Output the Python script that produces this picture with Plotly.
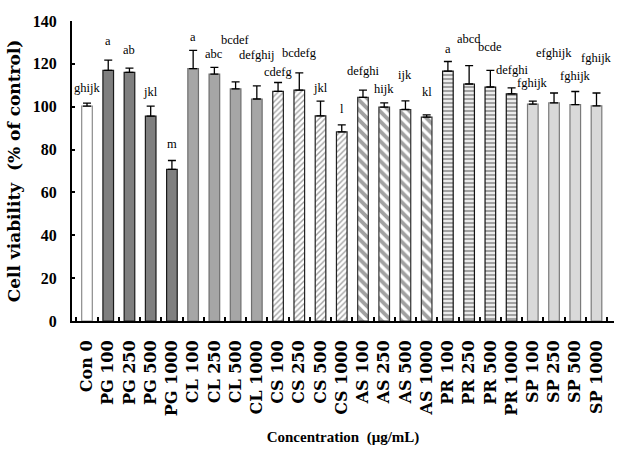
import plotly.graph_objects as go

categories = ["Con 0", "PG 100", "PG 250", "PG 500", "PG 1000",
              "CL 100", "CL 250", "CL 500", "CL 1000",
              "CS 100", "CS 250", "CS 500", "CS 1000",
              "AS 100", "AS 250", "AS 500", "AS 1000",
              "PR 100", "PR 250", "PR 500", "PR 1000",
              "SP 100", "SP 250", "SP 500", "SP 1000"]
viability = [100.3, 117.0, 116.0, 95.6, 70.8,
             117.8, 115.2, 108.3, 103.6,
             107.2, 107.7, 95.7, 88.3,
             104.4, 99.8, 98.7, 95.1,
             116.6, 110.6, 109.2, 106.0,
             101.2, 101.8, 101.0, 100.4]
sd = [1.4, 4.7, 2.0, 4.7, 4.1,
      8.5, 3.2, 3.3, 6.1,
      4.1, 8.1, 6.9, 3.2,
      3.3, 2.0, 4.0, 1.1,
      4.5, 8.6, 7.8, 2.8,
      1.4, 4.6, 6.1, 6.0]
letters = ["ghijk", "a", "ab", "jkl", "m",
           "a", "abc", "bcdef", "defghij",
           "cdefg", "bcdefg", "jkl", "l",
           "defghi", "hijk", "ijk", "kl",
           "a", "abcd", "bcde", "defghi",
           "fghijk", "efghijk", "fghijk", "fghijk"]

# styling per bar (group look)
label_lift = [15, 19, 18, 14, 17, 13, 13, 42, 31, 11, 20, 13, 16,
              19, 14, 26, 23, 13, 27, 23, 18, 18, 40, 16, 35]
fills = (["white"] + ["#7f7f7f"] * 4 + ["#a6a6a6"] * 4 + ["white"] * 4 +
         ["white"] * 4 + ["white"] * 4 + ["#d9d9d9"] * 4)
edges = (["#8c8c8c"] + ["#1a1a1a"] * 4 + ["#6e6e6e"] * 4 + ["#222222"] * 4 +
         ["#333333"] * 4 + ["#111111"] * 4 + ["#7a7a7a"] * 4)
shapes = ([""] * 9 + ["/"] * 4 + ["\\"] * 4 + ["-"] * 4 + [""] * 4)
pfg = (["black"] * 9 + ["#4a4a4a"] * 4 + ["black"] * 4 + ["black"] * 4 + ["black"] * 4)
psize = ([8] * 9 + [4] * 4 + [7] * 4 + [4] * 4 + [8] * 4)
psol = ([0.3] * 9 + [0.35] * 4 + [0.55] * 4 + [0.6] * 4 + [0.3] * 4)

fig = go.Figure()
fig.add_trace(go.Bar(
    x=categories, y=viability, width=0.5,
    marker=dict(color=fills,
                line=dict(color=edges, width=1.2),
                pattern=dict(shape=shapes, fgcolor=pfg, bgcolor="white",
                             size=psize, solidity=psol, fillmode="overlay")),
    error_y=dict(type="data", symmetric=False, array=sd,
                 arrayminus=[0] * len(sd), color="black",
                 thickness=1.3, width=4),
    showlegend=False,
))

for c, v, e, t, lift in zip(categories, viability, sd, letters, label_lift):
    fig.add_annotation(x=c, y=v + e, text=t, showarrow=False,
                       yanchor="middle", yshift=lift,
                       font=dict(family="Liberation Serif", size=12.5, color="black"))

fig.update_layout(
    width=627, height=450, autosize=False,
    margin=dict(l=72, r=13, t=21, b=129),
    plot_bgcolor="white", paper_bgcolor="white",
    bargap=0.5,
)
fig.update_yaxes(
    range=[0, 140], tickvals=[0, 20, 40, 60, 80, 100, 120, 140],
    showgrid=False, zeroline=False, automargin=False,
    showline=True, linecolor="black", linewidth=2,
    ticks="inside", ticklen=3, tickwidth=2, tickcolor="black",
    ticklabelstandoff=10,
    tickfont=dict(family="Liberation Serif", size=16, color="black", weight="bold"),
    title=dict(text="Cell viability  (% of control)", standoff=8,
               font=dict(family="DejaVu Serif", size=17, color="black", weight="bold")),
)
fig.update_xaxes(
    showgrid=False, zeroline=False, automargin=False,
    showline=True, linecolor="black", linewidth=2,
    ticks="inside", ticklen=4, tickwidth=1.5, tickcolor="black",
    tickson="boundaries", tickangle=-90,
    ticklabelstandoff=11,
    tickfont=dict(family="DejaVu Serif", size=16, color="black", weight="bold"),
    title=dict(text="Concentration\u00a0 (\u03bcg/mL)", standoff=16,
               font=dict(family="Liberation Serif", size=15, color="black", weight="bold")),
)

fig.write_html("out.html")
